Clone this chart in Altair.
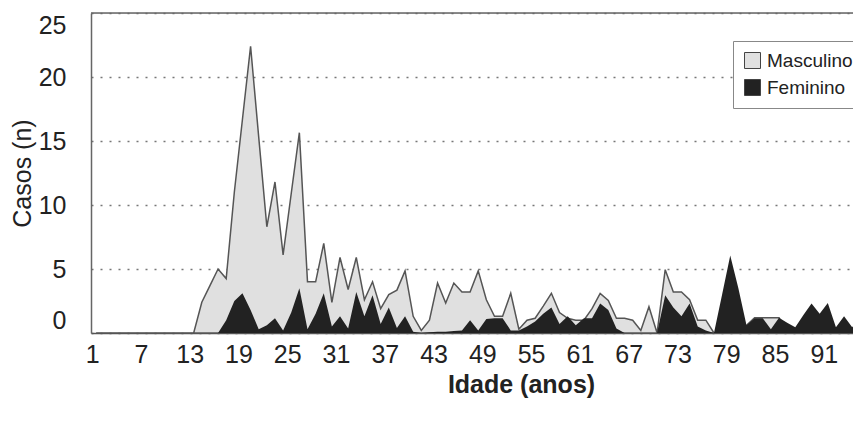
import altair as alt
import pandas as pd

# Ages (years)
ages = list(range(1, 97))

# Cases by sex
masculino = [
    0, 0, 0, 0, 0, 0, 0, 0, 0, 0, 0, 0,          # 1-12
    0, 2.4, 3.7, 5.0, 4.25, 11.0, 16.7, 22.4,    # 13-20
    15.3, 8.3, 11.8, 6.1, 10.9, 15.65, 4.0, 4.0, # 21-28
    7.0, 2.4, 5.9, 3.4, 5.9, 2.6, 4.0, 1.9,      # 29-36
    3.0, 3.35, 4.85, 1.3, 0.2, 1.0, 3.9, 2.35,   # 37-44
    3.9, 3.2, 3.2, 4.85, 2.6, 1.3, 1.3, 3.1,     # 45-52
    0.3, 1.0, 1.15, 2.1, 3.1, 1.6, 1.15, 1.0,    # 53-60
    1.0, 1.9, 3.1, 2.55, 1.15, 1.15, 1.0, 0.2,   # 61-68
    2.05, 0, 4.95, 3.2, 3.2, 2.6, 1.0, 1.0,      # 69-76
    0, 0, 0, 0, 0.6, 1.2, 1.2, 1.2,              # 77-84
    1.2, 0, 0, 0, 0, 0, 0, 0,                    # 85-92
    0, 0, 0, 0,                                  # 93-96
]
feminino = [
    0, 0, 0, 0, 0, 0, 0, 0, 0, 0, 0, 0,          # 1-12
    0, 0, 0, 0, 1.0, 2.5, 3.1, 1.8,              # 13-20
    0.3, 0.6, 1.15, 0.2, 1.6, 3.5, 0.3, 1.5,     # 21-28
    3.1, 0.5, 1.3, 0.35, 3.2, 1.3, 2.95, 0.7,    # 29-36
    2.0, 0.4, 1.3, 0.1, 0, 0.05, 0.1, 0.1,       # 37-44
    0.15, 0.2, 1.0, 0.2, 1.1, 1.15, 1.15, 0.2,   # 45-52
    0.2, 0.5, 0.9, 1.5, 2.0, 0.7, 1.3, 0.6,      # 53-60
    1.15, 1.15, 2.3, 1.8, 0.35, 0, 0, 0,         # 61-68
    0, 0, 2.95, 2.0, 1.3, 2.3, 0.5, 0.2,         # 69-76
    0, 3.0, 6.05, 3.5, 0.6, 1.15, 1.15, 0.3,     # 77-84
    1.2, 0.8, 0.45, 1.4, 2.3, 1.5, 2.35, 0.45,   # 85-92
    1.3, 0.45, 1.15, 0.5,                        # 93-96
]

series = ["Masculino", "Feminino"]
x_ticks = list(range(1, 92, 6))
y_ticks = [0, 5, 10, 15, 20, 25]

rows = []
for a, m, f in zip(ages, masculino, feminino):
    rows.append({"idade": a, "casos": m, "sexo": "Masculino"})
    rows.append({"idade": a, "casos": f, "sexo": "Feminino"})
df = pd.DataFrame(rows)

FONT = "Liberation Sans"

fill_scale = alt.Scale(domain=series, range=["#e0e0e0", "#222222"])
legend = alt.Legend(
    title=None, orient="none", legendX=642, legendY=28,
    symbolType="square", symbolSize=256, symbolStrokeColor="#444",
    symbolStrokeWidth=1, symbolOpacity=1, labelFontSize=19, labelFont=FONT,
    labelColor="#222", labelOffset=5, rowPadding=6, padding=10,
    strokeColor="#888", fillColor="white",
)

x_enc = alt.X(
    "idade:Q",
    scale=alt.Scale(domain=[0.37, 94.1], nice=False, zero=False),
    axis=alt.Axis(
        values=x_ticks, ticks=False, grid=False, labelFontSize=25,
        labelPadding=9, labelOffset=-4, labelFlush=False, labelColor="#222",
        domainColor="#555", domainWidth=1.5,
        title="Idade (anos)", titleFontSize=25, titleFontWeight="bold",
        titleColor="#222", titleX=430, titleY=51, titleAlign="center",
        titleBaseline="middle",
    ),
)
y_enc = alt.Y(
    "casos:Q", stack=None,
    scale=alt.Scale(domain=[0, 25], nice=False),
    axis=alt.Axis(
        values=y_ticks, ticks=False, grid=True, gridDash=[2, 7],
        gridColor="#777", gridWidth=1.5, labelFontSize=25, labelPadding=25,
        labelFlush=True, labelColor="#222", domainColor="#666", domainWidth=1.5,
        title="Casos (n)", titleFontSize=25, titleFontWeight="normal",
        titleColor="#222", titleX=-69, titleY=160, titleAngle=270,
        titleAlign="center", titleBaseline="middle",
    ),
)

base = alt.Chart(df)

gray = base.transform_filter(alt.datum.sexo == "Masculino").mark_area(
    stroke="#555", strokeWidth=1.5, clip=True, opacity=1
).encode(x=x_enc, y=y_enc, fill=alt.Fill("sexo:N", scale=fill_scale, legend=legend))

black = base.transform_filter(alt.datum.sexo == "Feminino").mark_area(
    clip=True, opacity=1
).encode(x=x_enc, y=y_enc, fill=alt.Fill("sexo:N", scale=fill_scale, legend=legend))

top = alt.Chart(pd.DataFrame({"v": [25]})).mark_rule(
    color="#666", strokeWidth=1.5
).encode(y=alt.datum(25))

chart = alt.layer(gray, black, top).properties(
    width=762, height=320,
    autosize=alt.AutoSizeParams(type="none"),
    padding={"left": 83, "top": 5, "right": 0, "bottom": 89},
).configure_view(stroke=None).configure(font=FONT, background="white")

chart.save("out.html", embed_options={"renderer": "svg", "actions": False})
